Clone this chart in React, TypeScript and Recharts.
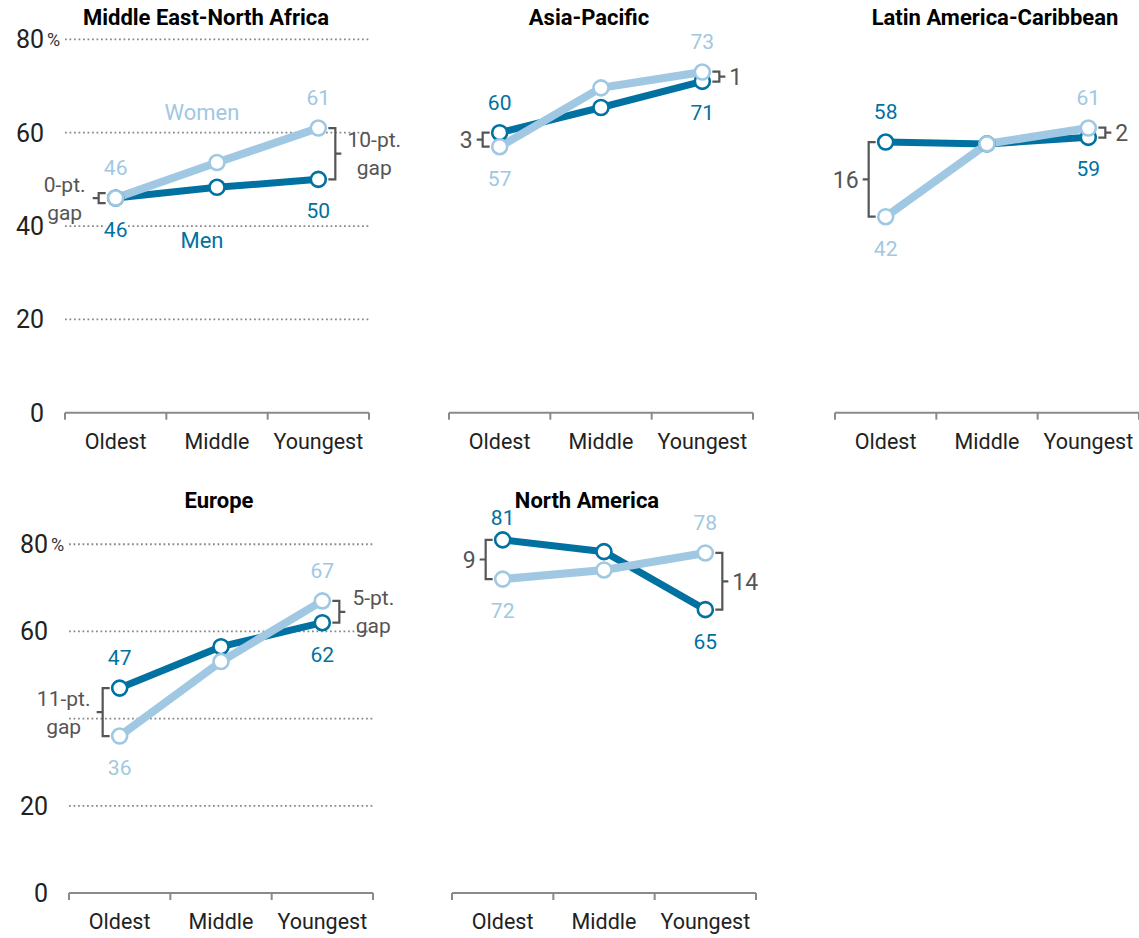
import React from "react";
import { LineChart, Line, XAxis, YAxis, CartesianGrid, ReferenceLine } from "recharts";

// age cohorts on the x axis
const ageGroups = ["Oldest", "Middle", "Youngest"];

const regions = [
  "Middle East-North Africa",
  "Asia-Pacific",
  "Latin America-Caribbean",
  "Europe",
  "North America",
];

// % by cohort (Oldest, Middle, Youngest), one row per region
const menShare = [
  [46, 48.3, 50],
  [60, 65.4, 71],
  [58, 57.6, 59],
  [47, 56.5, 62],
  [81, 78.3, 65],
];
const womenShare = [
  [46, 53.6, 61],
  [57, 69.6, 73],
  [42, 57.6, 61],
  [36, 53.1, 67],
  [72, 74.1, 78],
];

// gap annotations as printed
const gapOldest = [0, 3, 16, 11, 9];
const gapYoungest = [10, 1, 2, 5, 14];

const yTicks = [0, 20, 40, 60, 80];

const MEN = "#0071a1";
const WOMEN = "#a0c8e2";
const NOTE = "#555555";
const GRID = "#8a8a8a";
const FONT = "Roboto, 'Noto Sans', sans-serif";

const Y_W = 60;
const PLOT_W = 304;

// where each panel's plot area sits on the page
const layout = [
  { left: 65, top: 20.7, bottom: 412.7, chartTop: 0, right: 45, axisH: 50, col: 0, titleX: 206, titleY: 5, hideTick: -1 },
  { left: 449, top: 20.7, bottom: 412.7, chartTop: 0, right: 45, axisH: 50, col: 1, titleX: 589, titleY: 5, hideTick: -1 },
  { left: 835, top: 20.7, bottom: 412.7, chartTop: 0, right: 0, axisH: 50, col: 2, titleX: 995, titleY: 5, hideTick: -1 },
  { left: 69, top: 526.8, bottom: 893, chartTop: 487, right: 45, axisH: 45, col: 0, titleX: 219, titleY: 488, hideTick: 40 },
  { left: 452, top: 526.8, bottom: 893, chartTop: 487, right: 45, axisH: 45, col: 1, titleX: 587, titleY: 488, hideTick: -1 },
];

const halo = { stroke: "#fff", strokeWidth: 5, paintOrder: "stroke" as const, strokeLinejoin: "round" as const };

function makeDot(idx: number, series: "men" | "women", minY: number) {
  const color = series === "men" ? MEN : WOMEN;
  return (p: any) => {
    const { cx, cy, index, payload } = p;
    const v = payload[series];
    const other = series === "men" ? payload.women : payload.men;
    const above = series === "men" ? v > other : v >= other;
    return (
      <g key={`${series}-dot-${index}`}>
        <circle cx={cx} cy={cy} r={7.5} fill="#fff" stroke={color} strokeWidth={2.6} />
        {index !== 1 && (
          <text
            x={cx}
            y={above ? Math.max(cy - 23, minY) : cy + 39}
            textAnchor="middle"
            fontSize={21}
            fontFamily={FONT}
            fill={color}
            {...halo}
          >
            {Math.round(v)}
          </text>
        )}
        {index === 1 && idx === 0 && (
          <text
            x={cx - 15}
            y={series === "women" ? cy - 43 : cy + 61}
            textAnchor="middle"
            fontSize={22}
            fontFamily={FONT}
            fill={color}
          >
            {series === "women" ? "Women" : "Men"}
          </text>
        )}
      </g>
    );
  };
}

function makeBracket(side: "left" | "right", lines: string[]) {
  return (props: any) => {
    const { x1, y1, y2 } = props;
    const dir = side === "left" ? -1 : 1;
    const bx = x1 + dir * 17;
    let top = Math.min(y1, y2);
    let bot = Math.max(y1, y2);
    const mid = (top + bot) / 2;
    if (bot - top < 10) {
      top = mid - 5;
      bot = mid + 5;
    }
    const d = `M${bx - dir * 7},${top} H${bx} V${bot} H${bx - dir * 7} M${bx},${mid} H${bx + dir * 6}`;
    let label;
    if (lines.length === 1) {
      label = (
        <text
          x={bx + dir * 10}
          y={mid}
          dy="0.36em"
          textAnchor={side === "left" ? "end" : "start"}
          fontSize={23}
          fontFamily={FONT}
          fill={NOTE}
          {...halo}
        >
          {lines[0]}
        </text>
      );
    } else {
      const cx = bx + dir * (9 + (lines[0].length * 10) / 2);
      label = (
        <g>
          <text x={cx} y={mid - 14} dy="0.36em" textAnchor="middle" fontSize={21} fontFamily={FONT} fill={NOTE}>
            {lines[0]}
          </text>
          <text x={cx} y={mid + 14} dy="0.36em" textAnchor="middle" fontSize={21} fontFamily={FONT} fill={NOTE}>
            {lines[1]}
          </text>
        </g>
      );
    }
    return (
      <g>
        <path d={d} fill="none" stroke={NOTE} strokeWidth={2.2} />
        {label}
      </g>
    );
  };
}

function XTick(props: any) {
  const { x, y, payload, index } = props;
  const half = PLOT_W / 6;
  return (
    <g>
      <line x1={x - half} x2={x - half} y1={y} y2={y + 7} stroke={GRID} strokeWidth={2} />
      {index === ageGroups.length - 1 && (
        <line x1={x + half} x2={x + half} y1={y} y2={y + 7} stroke={GRID} strokeWidth={2} />
      )}
      <text x={x} y={y + 36} textAnchor="middle" fontSize={21.5} fontFamily={FONT} fill="#222">
        {payload.value}
      </text>
    </g>
  );
}

function YTick(props: any) {
  const { x, y, payload, hidden } = props;
  if (payload.value === hidden) return <g />;
  return (
    <g>
      <text x={x - 21} y={y} dy="0.36em" textAnchor="end" fontSize={25} fontFamily={FONT} fill="#222">
        {payload.value}
      </text>
      {payload.value === 80 && (
        <text x={x - 18} y={y} dy="0.36em" fontSize={18} fontFamily={FONT} fill="#333">
          %
        </text>
      )}
    </g>
  );
}

function Panel({ idx }: { idx: number }) {
  const lay = layout[idx];
  const men = menShare[idx];
  const women = womenShare[idx];
  const data = ageGroups.map((age, i) => ({ age, men: men[i], women: women[i] }));
  const verbose = lay.col === 0;
  const gapText = (g: number) => (verbose ? [`${g}-pt.`, "gap"] : [`${g}`]);
  const last = ageGroups.length - 1;
  const width = Y_W + PLOT_W + lay.right;
  const height = lay.bottom - lay.chartTop + lay.axisH;
  const marginTop = lay.top - lay.chartTop;

  return (
    <div style={{ position: "absolute", left: lay.left - Y_W, top: lay.chartTop }}>
      <LineChart
        width={width}
        height={height}
        data={data}
        margin={{ top: marginTop, right: lay.right, bottom: 0, left: 0 }}
      >
        <CartesianGrid
          vertical={false}
          horizontalValues={[20, 40, 60, 80]}
          stroke={GRID}
          strokeWidth={1.8}
          strokeDasharray="1.8 2.7"
        />
        <XAxis
          dataKey="age"
          type="category"
          padding={{ left: PLOT_W / 6, right: PLOT_W / 6 }}
          axisLine={{ stroke: GRID, strokeWidth: 2 }}
          tickLine={false}
          tickSize={0}
          tickMargin={0}
          height={lay.axisH}
          tick={<XTick />}
          interval={0}
        />
        <YAxis
          type="number"
          domain={[0, 84]}
          ticks={yTicks}
          width={Y_W}
          axisLine={false}
          tickLine={false}
          tickSize={0}
          tickMargin={0}
          tick={verbose ? <YTick hidden={lay.hideTick} /> : false}
        />
        <ReferenceLine
          segment={[
            { x: ageGroups[0], y: men[0] },
            { x: ageGroups[0], y: women[0] },
          ]}
          ifOverflow="visible"
          shape={makeBracket("left", gapText(gapOldest[idx]))}
        />
        <ReferenceLine
          segment={[
            { x: ageGroups[last], y: men[last] },
            { x: ageGroups[last], y: women[last] },
          ]}
          ifOverflow="visible"
          shape={makeBracket("right", gapText(gapYoungest[idx]))}
        />
        <Line
          dataKey="men"
          type="linear"
          stroke={MEN}
          strokeWidth={7}
          dot={makeDot(idx, "men", marginTop - 2)}
          activeDot={false}
          isAnimationActive={false}
        />
        <Line
          dataKey="women"
          type="linear"
          stroke={WOMEN}
          strokeWidth={8}
          dot={makeDot(idx, "women", marginTop - 2)}
          activeDot={false}
          isAnimationActive={false}
        />
      </LineChart>
    </div>
  );
}

export default function App() {
  return (
    <div
      style={{
        position: "absolute",
        left: 0,
        top: 0,
        width: 1139,
        height: 938,
        overflow: "hidden",
        background: "#fff",
        fontFamily: FONT,
      }}
    >
      {regions.map((_, i) => (
        <Panel key={i} idx={i} />
      ))}
      {regions.map((name, i) => (
        <div
          key={name}
          style={{
            position: "absolute",
            left: layout[i].titleX,
            top: layout[i].titleY,
            transform: "translateX(-50%)",
            whiteSpace: "nowrap",
            fontWeight: 700,
            fontSize: 22,
            lineHeight: "26px",
            color: "#000",
          }}
        >
          {name}
        </div>
      ))}
    </div>
  );
}
